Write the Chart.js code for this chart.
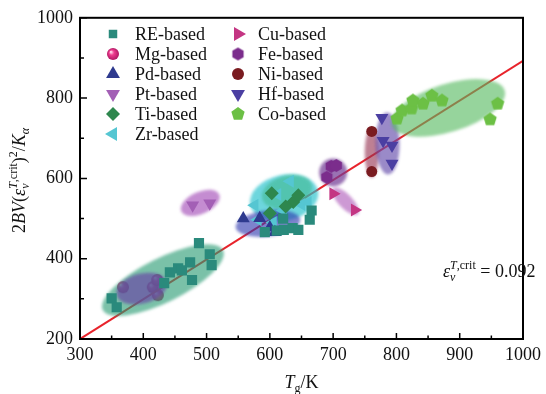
<!DOCTYPE html>
<html><head><meta charset="utf-8">
<script src="https://cdn.jsdelivr.net/npm/chart.js@4.4.0/dist/chart.umd.min.js"></script>
<style>html,body{margin:0;padding:0;background:#fff}#wrap{width:546px;height:394px}</style>
</head><body><div id="wrap"><canvas id="c" width="546" height="394"></canvas></div>
<script>
// ---------- data ----------
const categories = ['RE-based','Mg-based','Pd-based','Pt-based','Ti-based','Zr-based','Cu-based','Fe-based','Ni-based','Hf-based','Co-based'];
const reData = [[350,301],[358,279],[433,339],[442,366],[455,376],[461,371],[474,391],[477,347],[488,439],[505,411],[508,384],
                [592,466],[611,470],[622,472],[636,476],[645,472],[621,500],[663,497],[666,520]];
const mgData = [[368,329],[415,329],[422,347],[423,309]];
const pdData = [[558,500],[584,501],[600,478],[608,466]];
const ptData = [[478,533],[505,538]];
const tiData = [[603,563],[637,541],[645,558],[600,513],[625,530]];
const zrData = [[632,593],[650,535],[576,533],[581,497],[605,490],[621,520],[612,560],[660,540]];
const cuData = [[700,562],[734,521]];
const feData = [[690,603],[697,630],[705,632]];
const niData = [[761,717],[761,617]];
const hfData = [[777,751],[779,694],[793,682],[793,637]];
const coData = [[801,749],[809,769],[824,774],[826,794],[842,786],[856,806],[872,794],[960,786],[948,747]];
const fitLine = [[300,200],[1000,893]];
const annotationValue = '0.092';
const xMajorTicks = [300,400,500,600,700,800,900,1000];
const xMinorTicks = [350,450,550,650,750,850,950];
const yMajorTicks = [200,400,600,800,1000];
const yMinorTicks = [300,500,700,900];
// cluster ellipses: major-axis endpoints in data units (RE, Mg, Pt, Zr, Ti, Pd, Fe, Cu, Ni, Hf, Co)
const ellipseFrom = [[336,272],[358,309],[460,518],[569,533],[588,548],[546,478],[690,615],[700,575],[761,727],[785,764],[793,732]];
const ellipseTo   = [[526,421],[437,342],[520,560],[676,570],[666,585],[648,498],[710,615],[739,511],[761,602],[787,610],[971,819]];

// ---------- styling ----------
const ellipseHalfWidth = [22,15,11,23,16,13,14,7,7,12,24];
const ellipseColor = ['rgba(40,155,115,0.62)','rgba(105,70,165,0.68)','rgba(160,70,180,0.62)',
  'rgba(40,195,205,0.68)','rgba(50,175,120,0.45)','rgba(45,55,175,0.62)','rgba(115,60,150,0.72)','rgba(175,90,185,0.62)','rgba(150,50,80,0.62)',
  'rgba(100,75,170,0.65)','rgba(85,185,95,0.62)'];
const SERIF = '"Liberation Serif","Times New Roman",serif';

function polyImage(n, r, color) {
  const c = document.createElement('canvas');
  c.width = c.height = Math.ceil(2*r+2);
  const g = c.getContext('2d');
  g.translate(c.width/2, c.height/2);
  g.beginPath();
  for (let i=0;i<n;i++){const a=-Math.PI/2+i*2*Math.PI/n; const px=r*Math.cos(a), py=r*Math.sin(a); i?g.lineTo(px,py):g.moveTo(px,py);}
  g.closePath(); g.fillStyle=color; g.fill();
  return c;
}
function sphereImage(r) {
  const c = document.createElement('canvas');
  c.width = c.height = Math.ceil(2*r+2);
  const g = c.getContext('2d');
  const m = c.width/2;
  const gr = g.createRadialGradient(m-r*0.35,m-r*0.35,r*0.1,m,m,r);
  gr.addColorStop(0,'#ffd0e6'); gr.addColorStop(0.35,'#ee3d8f'); gr.addColorStop(1,'#b01763');
  g.beginPath(); g.arc(m,m,r,0,Math.PI*2); g.fillStyle=gr; g.fill();
  return c;
}
const hexImg = polyImage(6, 6.5, '#7b2d8c');
const pentImg = polyImage(5, 7, '#6cc045');
const sphImg = sphereImage(6);

const seriesData = [reData,mgData,pdData,ptData,tiData,zrData,cuData,feData,niData,hfData,coData];
const seriesStyle = [
  {c:'#2a8a7c', ps:'rect', rot:0, r:7.2, lr:6},
  {c:'#e8378c', ps:sphImg, rot:0, r:6, lr:6},
  {c:'#2e3a8e', ps:'triangle', rot:0, r:7.5, lr:8},
  {c:'#a35fb5', ps:'triangle', rot:180, r:7.5, lr:8},
  {c:'#2e874e', ps:'rectRot', rot:0, r:7, lr:7},
  {c:'#55c6d2', ps:'triangle', rot:-90, r:7.5, lr:8},
  {c:'#c43583', ps:'triangle', rot:90, r:7.5, lr:8},
  {c:'#7b2d8c', ps:hexImg, rot:0, r:6.5, lr:6.5},
  {c:'#7a1b20', ps:'circle', rot:0, r:5.5, lr:6},
  {c:'#4b3fa2', ps:'triangle', rot:180, r:7.5, lr:8},
  {c:'#6cc045', ps:pentImg, rot:0, r:7, lr:7}
];

const datasets = [{
  type:'line', label:'fit', data: fitLine.map(p=>({x:p[0],y:p[1]})),
  borderColor:'#e8232b', borderWidth:2, pointRadius:0, fill:false, order:2
}];
categories.forEach((name,i)=>{
  const s = seriesStyle[i];
  datasets.push({
    type:'scatter', label:name, data: seriesData[i].map(p=>({x:p[0],y:p[1]})),
    pointStyle:s.ps, rotation:s.rot, pointRadius:s.r, pointHoverRadius:s.r,
    backgroundColor:s.c, borderColor:s.c, borderWidth:0, order: i===1 ? 3 : 0,
    legendRadius:s.lr
  });
});

// rich text helper
function segWidth(ctx, seg){
  if (seg.stack){ return Math.max(...seg.stack.map(list=>list.reduce((w,s)=>w+segWidth(ctx,s),0))); }
  ctx.font = (seg.i?'italic ':'')+seg.s+'px '+SERIF; return ctx.measureText(seg.t).width;
}
function drawSegs(ctx, segs, x, y){
  for (const seg of segs){
    if (seg.stack){
      seg.stack.forEach(list=>drawSegs(ctx,list,x,y));
      x += segWidth(ctx,seg);
    } else {
      ctx.font = (seg.i?'italic ':'')+seg.s+'px '+SERIF;
      ctx.fillText(seg.t, x, y+(seg.dy||0));
      x += ctx.measureText(seg.t).width + (seg.k||0);
    }
  }
}
function richWidth(ctx, segs){ return segs.reduce((w,s)=>w+segWidth(ctx,s)+(s.k||0),0); }

const yTitle = [
  {t:'2',s:18},{t:'BV',i:1,s:18},{t:'(',s:18},{t:'ε',i:1,s:18},
  {stack:[[{t:'v',i:1,s:12,dy:4}],[{t:'T',i:1,s:12,dy:-8},{t:',crit',s:12,dy:-8}]]},
  {t:')',s:18},{t:'2',s:12,dy:-8},{t:'/',s:18},{t:'K',i:1,s:18},{t:'α',i:1,s:12,dy:4}
];
const xTitle = [{t:'T',i:1,s:18},{t:'g',s:12,dy:4},{t:'/K',s:18}];
const annot = [{t:'ε',i:1,s:18},
  {stack:[[{t:'v',i:1,s:12,dy:4}],[{t:'T',i:1,s:12,dy:-8},{t:',crit',s:12,dy:-8}]]},
  {t:' = '+annotationValue,s:18}];

const ellipsePlugin = {
  id:'ellipses',
  afterDatasetDraw(chart,args){
    if (args.index!==0) return;
    const {ctx, scales:{x,y}} = chart;
    ctx.save();
    ctx.beginPath(); ctx.rect(chart.chartArea.left,chart.chartArea.top,chart.chartArea.width,chart.chartArea.height); ctx.clip();
    ctx.filter = 'blur(1.5px)';
    ellipseFrom.forEach((a,i)=>{
      const b = ellipseTo[i];
      const x1=x.getPixelForValue(a[0]), y1=y.getPixelForValue(a[1]);
      const x2=x.getPixelForValue(b[0]), y2=y.getPixelForValue(b[1]);
      const cx=(x1+x2)/2, cy=(y1+y2)/2;
      const rx=Math.hypot(x2-x1,y2-y1)/2;
      const ang=Math.atan2(y2-y1,x2-x1);
      ctx.beginPath();
      ctx.ellipse(cx,cy,Math.max(rx,ellipseHalfWidth[i]),ellipseHalfWidth[i],ang,0,Math.PI*2);
      ctx.fillStyle=ellipseColor[i]; ctx.fill();
    });
    ctx.restore();
  }
};

const framePlugin = {
  id:'frame',
  afterDraw(chart){
    const {ctx, chartArea:a, scales:{x,y}} = chart;
    ctx.save();
    ctx.strokeStyle='#000'; ctx.lineWidth=1.5;
    ctx.beginPath();
    xMajorTicks.forEach(v=>{const p=x.getPixelForValue(v); ctx.moveTo(p,a.bottom); ctx.lineTo(p,a.bottom-6);});
    xMinorTicks.forEach(v=>{const p=x.getPixelForValue(v); ctx.moveTo(p,a.bottom); ctx.lineTo(p,a.bottom-3.5);});
    yMajorTicks.forEach(v=>{const p=y.getPixelForValue(v); ctx.moveTo(a.left,p); ctx.lineTo(a.left+7,p);});
    yMinorTicks.forEach(v=>{const p=y.getPixelForValue(v); ctx.moveTo(a.left,p); ctx.lineTo(a.left+4,p);});
    ctx.stroke();
    ctx.lineWidth=2;
    ctx.strokeRect(a.left,a.top,a.right-a.left,a.bottom-a.top);
    // titles
    ctx.fillStyle='#111'; ctx.textBaseline='alphabetic'; ctx.textAlign='left';
    const wx = richWidth(ctx,xTitle);
    drawSegs(ctx,xTitle,(a.left+a.right)/2-wx/2,388);
    ctx.save();
    ctx.translate(25,(a.top+a.bottom)/2+2);
    ctx.rotate(-Math.PI/2);
    const wy = richWidth(ctx,yTitle);
    drawSegs(ctx,yTitle,-wy/2,0);
    ctx.restore();
    drawSegs(ctx,annot,443,277);
    // legend
    const dsList = chart.data.datasets.slice(1);
    dsList.forEach((ds,i)=>{
      const col = i<6?0:1, row = i%6;
      const mx = col?238:113, my = 34+row*20;
      ctx.fillStyle = ds.backgroundColor; ctx.strokeStyle = ds.backgroundColor;
      Chart.helpers.drawPoint(ctx,{pointStyle:ds.pointStyle,rotation:ds.rotation,radius:ds.legendRadius,borderWidth:0},mx,my);
      ctx.fillStyle='#111';
      ctx.font='18px '+SERIF; ctx.textBaseline='middle'; ctx.textAlign='left';
      ctx.fillText(ds.label, col?258:135, my+1);
    });
    ctx.restore();
  }
};

new Chart(document.getElementById('c'), {
  data:{datasets},
  options:{
    responsive:false, animation:false, devicePixelRatio:1,
    layout:{padding:{left:0,right:23,top:17,bottom:0}},
    plugins:{legend:{display:false}, tooltip:{enabled:false}},
    scales:{
      x:{type:'linear', min:300, max:1000,
        afterBuildTicks:s=>{s.ticks = xMajorTicks.map(v=>({value:v}));},
        afterFit:s=>{s.height=55;},
        ticks:{font:{family:SERIF,size:18}, color:'#111', padding:5, maxRotation:0, autoSkip:false, callback:v=>String(v)},
        grid:{display:false, drawTicks:false}, border:{display:false}},
      y:{type:'linear', min:200, max:1000,
        afterBuildTicks:s=>{s.ticks = yMajorTicks.map(v=>({value:v}));},
        afterFit:s=>{s.width=80;},
        ticks:{font:{family:SERIF,size:18}, color:'#111', padding:7, autoSkip:false, callback:v=>String(v)},
        grid:{display:false, drawTicks:false}, border:{display:false}}
    }
  },
  plugins:[ellipsePlugin, framePlugin]
});
</script></body></html>
